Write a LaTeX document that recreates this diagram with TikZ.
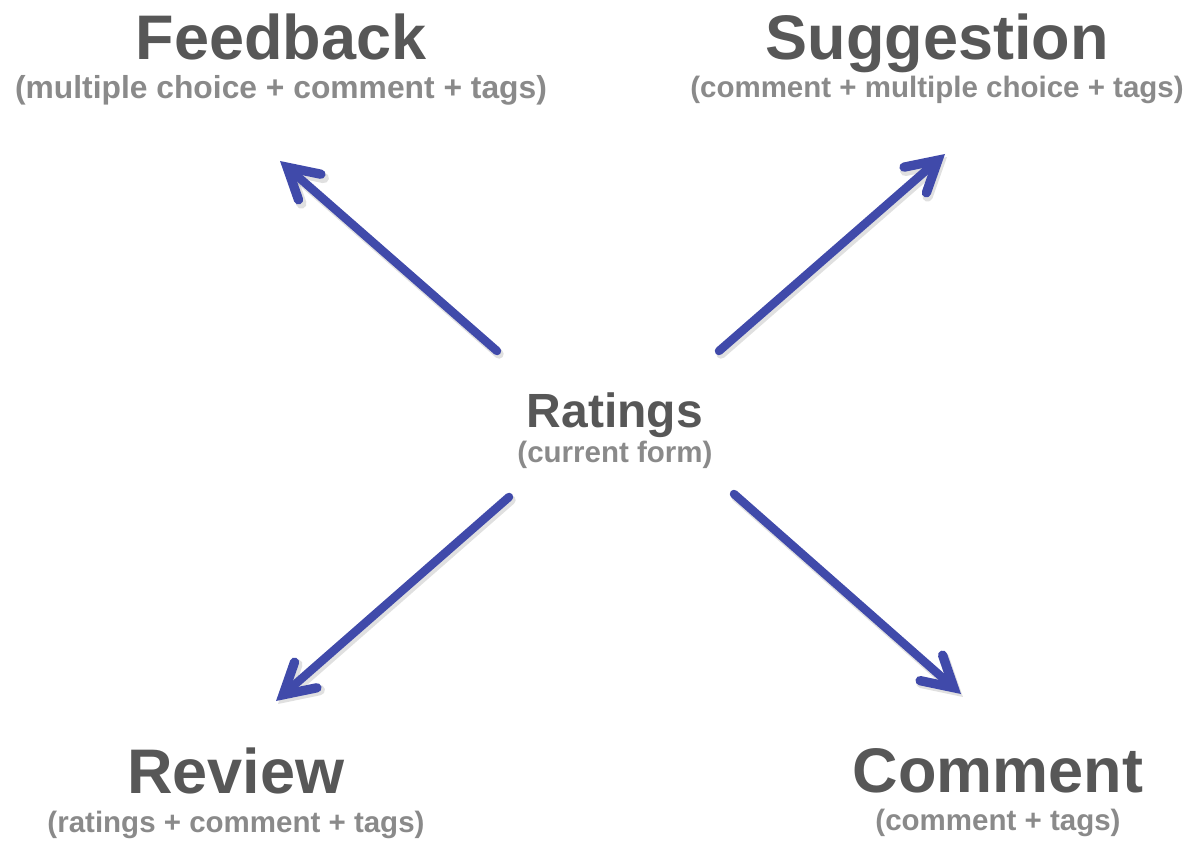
\documentclass[tikz,border=0pt]{standalone}
\usepackage{fontspec}
\setmainfont{Liberation Sans}
\usetikzlibrary{arrows.meta,positioning}
\definecolor{namegray}{HTML}{575757}
\definecolor{notegray}{HTML}{8A8A8A}
\definecolor{flowblue}{RGB}{64,74,170}
\tikzset{
  mainlabel/.style={font=\bfseries\fontsize{63}{70}\selectfont, text=namegray, inner sep=0pt, anchor=base},
  midlabel/.style={font=\bfseries\fontsize{48}{54}\selectfont, text=namegray, inner sep=0pt, anchor=base},
  sublabel/.style={font=\bfseries\fontsize{29.5}{34}\selectfont, text=notegray, inner sep=0pt, anchor=base},
  flow/.style={draw=flowblue, line width=8.5pt, line cap=round,
    -{Straight Barb[length=30pt, width=34pt, line width=0pt 1.1, line cap=round, line join=miter]}},
  flowshade/.style={draw=black, opacity=0.12, line width=9.5pt, line cap=round,
    -{Straight Barb[length=30pt, width=34pt, line width=0pt 1.1, line cap=round, line join=miter]}}
}
\begin{document}
\begin{tikzpicture}[x=1pt,y=-1pt]
        \useasboundingbox (0,0) rectangle (1186,842);
        % centre
        \node [midlabel] (ratings) at (615,427) {Ratings};
        \node [sublabel] (ratings-sub) at ([yshift=-35pt]ratings.base) {(current form)};
        % corners
        \node [mainlabel] (feedback) at (281,60) {Feedback};
        \node [sublabel, font=\bfseries\fontsize{31.8}{36}\selectfont] (feedback-sub) at ([yshift=-39pt]feedback.base) {(multiple choice + comment + tags)};
        \node [mainlabel] (suggestion) at (937,60) {Suggestion};
        \node [sublabel] (suggestion-sub) at ([yshift=-38pt]suggestion.base) {(comment + multiple choice + tags)};
        \node [mainlabel] (review) at (236,793) {Review};
        \node [sublabel] (review-sub) at ([yshift=-39pt]review.base) {(ratings + comment + tags)};
        \node [mainlabel] (comment) at (998,792) {Comment};
        \node [sublabel] (comment-sub) at ([yshift=-38pt]comment.base) {(comment + tags)};
        % arrow ends
        \coordinate (fb-in) at (497,351);
        \coordinate (fb-out) at (280,161);
        \coordinate (sg-in) at (719,351);
        \coordinate (sg-out) at (945,154);
        \coordinate (rv-in) at (509,497);
        \coordinate (rv-out) at (276,701);
        \coordinate (cm-in) at (734,494);
        \coordinate (cm-out) at (961,694);
        \foreach \a/\b in {fb-in/fb-out, sg-in/sg-out, rv-in/rv-out, cm-in/cm-out}
            \draw [flowshade] ([shift={(2,3)}]\a) -- ([shift={(2,3)}]\b);
        \foreach \a/\b in {fb-in/fb-out, sg-in/sg-out, rv-in/rv-out, cm-in/cm-out}
            \draw [flow] (\a) -- (\b);
    \end{tikzpicture}
\end{document}
